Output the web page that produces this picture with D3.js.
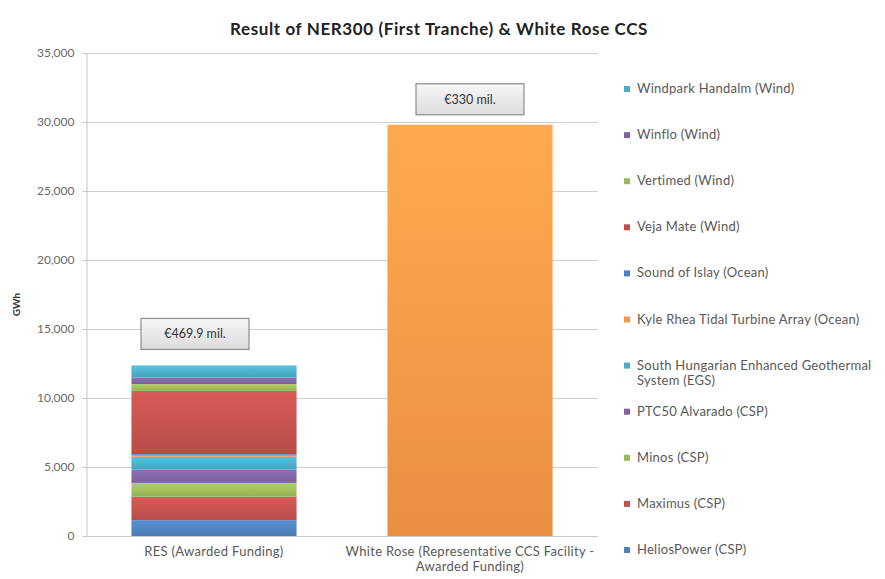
<!DOCTYPE html>
<html>
<head>
<meta charset="utf-8">
<script src="https://cdn.jsdelivr.net/npm/d3@7"></script>
<style>
  html, body { margin: 0; padding: 0; background: #fff; }
  svg { display: block; font-family: Lato, "Open Sans", sans-serif; }
</style>
</head>
<body>
<svg id="chart" width="885" height="579"></svg>
<script>
// ---- data ----
const title = "Result of NER300 (First Tranche) & White Rose CCS";
const yAxisLabel = "GWh";
const categories = ["RES (Awarded Funding)", "White Rose (Representative CCS Facility - Awarded Funding)"];
const categoryLines = [["RES (Awarded Funding)"], ["White Rose (Representative CCS Facility -", "Awarded Funding)"]];
// stacked RES series, bottom to top
const seriesNames = [
  "HeliosPower (CSP)", "Maximus (CSP)", "Minos (CSP)", "PTC50 Alvarado (CSP)",
  "South Hungarian Enhanced Geothermal System (EGS)", "Kyle Rhea Tidal Turbine Array (Ocean)",
  "Sound of Islay (Ocean)", "Veja Mate  (Wind)", "Vertimed  (Wind)", "Winflo  (Wind)",
  "Windpark Handalm (Wind)"
];
const resValues = [1150, 1700, 1000, 950, 950, 80, 100, 4590, 490, 480, 870];
const whiteRoseValue = 29800;
const seriesColors = ["#4F81BD", "#C0504D", "#9BBB59", "#8064A2", "#4BACC6", "#F79646",
                      "#4F81BD", "#C0504D", "#9BBB59", "#8064A2", "#4BACC6"];
const whiteRoseColor = "#F79646";
const annotations = ["€469.9 mil.", "€330 mil."];
const yTicks = [0, 5000, 10000, 15000, 20000, 25000, 30000, 35000];

// ---- layout ----
const svg = d3.select("#chart");
const plot = { left: 86, right: 598, top: 53, bottom: 536 };

const y = d3.scaleLinear().domain([0, 35000]).range([plot.bottom, plot.top]);
const x = d3.scaleBand().domain(categories).range([plot.left, plot.right])
  .paddingInner(0.355).paddingOuter(0.1775);

const defs = svg.append("defs");
function gradFor(color, id) {
  const g = defs.append("linearGradient").attr("id", id)
    .attr("x1", 0).attr("y1", 0).attr("x2", 0).attr("y2", 1);
  g.append("stop").attr("offset", "0%").attr("stop-color", d3.color(color).brighter(0.35));
  g.append("stop").attr("offset", "100%").attr("stop-color", d3.color(color).darker(0.15));
  return "url(#" + id + ")";
}
const boxGrad = defs.append("linearGradient").attr("id", "boxg")
  .attr("x1", 0).attr("y1", 0).attr("x2", 0).attr("y2", 1);
boxGrad.append("stop").attr("offset", "0%").attr("stop-color", "#f7f7f7");
boxGrad.append("stop").attr("offset", "100%").attr("stop-color", "#dcdcdc");

// title
svg.append("text").attr("x", 439).attr("y", 35).attr("text-anchor", "middle")
  .attr("font-size", 17).attr("font-weight", "bold").attr("fill", "#222")
  .attr("letter-spacing", 0.6)
  .text(title);

// gridlines
svg.append("g").selectAll("line").data(yTicks.filter(d => d > 0)).join("line")
  .attr("x1", plot.left).attr("x2", plot.right)
  .attr("y1", d => y(d) + 0.5).attr("y2", d => y(d) + 0.5)
  .attr("stroke", "#d0d0d0").attr("stroke-width", 1);

// y axis
const yAxis = d3.axisLeft(y).tickValues(yTicks).tickSize(4).tickPadding(8)
  .tickFormat(d3.format(","));
const ya = svg.append("g").attr("transform", `translate(${plot.left + 0.5},0)`).call(yAxis);
ya.select(".domain").attr("stroke", "#c8c8c8");
ya.selectAll(".tick line").attr("stroke", "#c8c8c8");
ya.selectAll(".tick text").attr("fill", "#6a6a6a").attr("font-size", 12)
  .attr("font-family", "Lato, sans-serif");

// x baseline
svg.append("line").attr("x1", plot.left).attr("x2", plot.right)
  .attr("y1", y(0) + 0.5).attr("y2", y(0) + 0.5).attr("stroke", "#c8c8c8");

// y label
svg.append("text").attr("transform", `translate(20,${(plot.top + plot.bottom) / 2 + 10}) rotate(-90)`)
  .attr("text-anchor", "middle").attr("font-size", 10).attr("font-weight", "bold")
  .attr("fill", "#333").text(yAxisLabel);

// stacked RES bar
let cum = 0;
const stackData = resValues.map((v, i) => { const d = { i, y0: cum, y1: cum + v }; cum += v; return d; });
svg.append("g").selectAll("rect").data(stackData).join("rect")
  .attr("x", x(categories[0])).attr("width", x.bandwidth())
  .attr("y", d => y(d.y1)).attr("height", d => y(d.y0) - y(d.y1))
  .attr("fill", d => gradFor(seriesColors[d.i], "g" + d.i));

// White Rose bar
svg.append("rect")
  .attr("x", x(categories[1])).attr("width", x.bandwidth())
  .attr("y", y(whiteRoseValue)).attr("height", y(0) - y(whiteRoseValue))
  .attr("fill", gradFor(whiteRoseColor, "gwr"));

// annotation boxes
const annTops = [cum, whiteRoseValue];
const annGaps = [16, 10];
const annOffsets = [-19, 0];
annotations.forEach((t, i) => {
  const cx = x(categories[i]) + x.bandwidth() / 2 + annOffsets[i];
  const by = y(annTops[i]) - annGaps[i];
  const w = 108, h = 31;
  svg.append("rect").attr("x", cx - w / 2).attr("y", by - h).attr("width", w).attr("height", h)
    .attr("fill", "url(#boxg)").attr("stroke", "#8c8c8c").attr("stroke-width", 1.2);
  svg.append("text").attr("x", cx).attr("y", by - h / 2 + 4.5).attr("text-anchor", "middle")
    .attr("font-size", 12.5).attr("fill", "#333").text(t);
});

// x labels
categoryLines.forEach((lines, i) => {
  const cx = x(categories[i]) + x.bandwidth() / 2;
  lines.forEach((ln, j) => {
    svg.append("text").attr("x", cx).attr("y", 556 + j * 15).attr("text-anchor", "middle")
      .attr("font-size", 13).attr("letter-spacing", 0.3).attr("fill", "#595959").text(ln);
  });
});

// legend (top = last series)
const legendOrder = seriesNames.map((n, i) => ({ n, i })).reverse();
const lg = svg.append("g");
legendOrder.forEach((d, k) => {
  const ly = 93 + k * 46.1;
  lg.append("rect").attr("x", 624).attr("y", ly - 7).attr("width", 6).attr("height", 6)
    .attr("fill", seriesColors[d.i]);
  const words = d.n === "South Hungarian Enhanced Geothermal System (EGS)"
    ? ["South Hungarian Enhanced Geothermal", "System (EGS)"] : [d.n];
  words.forEach((w, j) => {
    lg.append("text").attr("x", 637).attr("y", ly + j * 15).attr("font-size", 13)
      .attr("letter-spacing", 0.25).attr("fill", "#595959").text(w);
  });
});
</script>
</body>
</html>
